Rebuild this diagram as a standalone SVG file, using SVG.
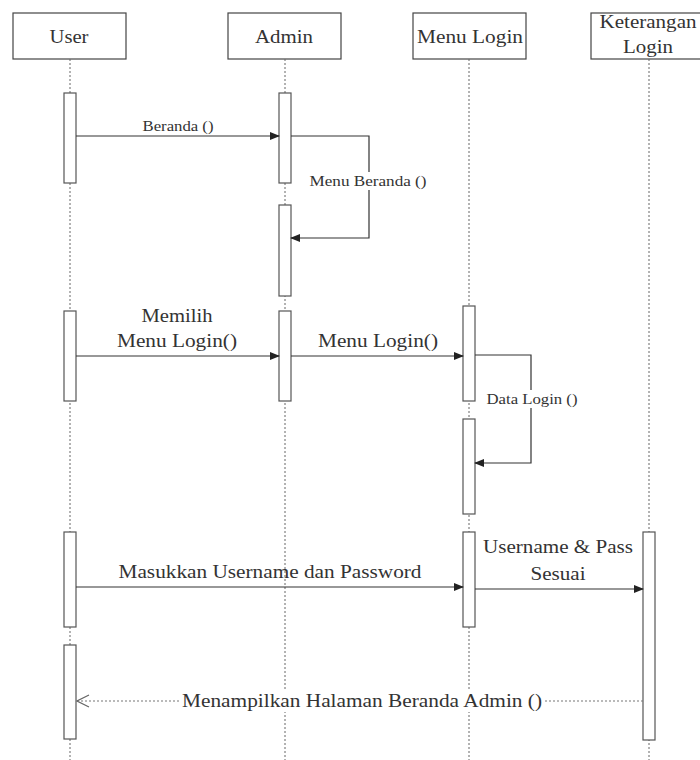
<svg xmlns="http://www.w3.org/2000/svg" width="700" height="760" viewBox="0 0 700 760">
<style>
.box{fill:#fff;stroke:#444;stroke-width:1.2}
.life{stroke:#666;stroke-width:1;stroke-dasharray:2,2;fill:none}
.act{fill:#fff;stroke:#555;stroke-width:1.2}
.msg{stroke:#333;stroke-width:1.2;fill:none}
.ret{stroke:#777;stroke-width:1.2;stroke-dasharray:2,2;fill:none}
text{fill:#333;text-anchor:middle;font-family:"Times New Roman","Liberation Serif",Times,"DejaVu Serif",serif}
.h{font-size:18px}
.m{font-size:19px}
.s{font-size:14px}
</style>
<defs>
<marker id="arr" markerWidth="10" markerHeight="8" refX="9" refY="4" orient="auto" markerUnits="userSpaceOnUse">
<path d="M0,0 L10,4 L0,8 z" fill="#222"/>
</marker>
<marker id="open" markerWidth="14" markerHeight="14" refX="13" refY="7" orient="auto" markerUnits="userSpaceOnUse">
<path d="M1,1 L13,7 L1,13" fill="none" stroke="#666" stroke-width="1.2"/>
</marker>
</defs>

<g id="user">
<rect class="box" x="13" y="13" width="113" height="46"/>
<text class="h" x="69" y="43" textLength="39" lengthAdjust="spacingAndGlyphs">User</text>
<line class="life" x1="70" y1="59" x2="70" y2="760"/>
<rect class="act" x="64" y="93" width="12" height="90"/>
<rect class="act" x="64" y="311" width="12" height="90"/>
<rect class="act" x="64" y="532" width="12" height="95"/>
<rect class="act" x="64" y="645" width="12" height="94"/>
</g>

<g id="admin">
<rect class="box" x="228" y="13" width="113" height="46"/>
<text class="h" x="284" y="43" textLength="58" lengthAdjust="spacingAndGlyphs">Admin</text>
<line class="life" x1="285" y1="59" x2="285" y2="760"/>
<rect class="act" x="279" y="93" width="12" height="90"/>
<rect class="act" x="279" y="205" width="12" height="91"/>
<rect class="act" x="279" y="311" width="12" height="90"/>
</g>

<g id="menu-login">
<rect class="box" x="413" y="13" width="113" height="46"/>
<text class="h" x="470" y="43" textLength="106" lengthAdjust="spacingAndGlyphs">Menu Login</text>
<line class="life" x1="469" y1="59" x2="469" y2="760"/>
<rect class="act" x="463" y="306" width="12" height="95"/>
<rect class="act" x="463" y="419" width="12" height="95"/>
<rect class="act" x="463" y="532" width="12" height="95"/>
</g>

<g id="keterangan-login">
<rect class="box" x="591" y="13" width="116" height="46"/>
<text class="h" x="648" y="28" textLength="97" lengthAdjust="spacingAndGlyphs">Keterangan</text>
<text class="h" x="648" y="53" textLength="50" lengthAdjust="spacingAndGlyphs">Login</text>
<line class="life" x1="649" y1="59" x2="649" y2="760"/>
<rect class="act" x="643" y="532" width="12" height="208"/>
</g>

<g id="connectors">
<line class="msg" x1="76" y1="136" x2="279" y2="136" marker-end="url(#arr)"/>
<text class="s" x="178" y="131" textLength="71" lengthAdjust="spacingAndGlyphs">Beranda ()</text>

<path class="msg" d="M291,136 H369 V238 H291" marker-end="url(#arr)"/>
<rect x="308" y="172" width="122" height="18" fill="#fff"/>
<text class="s" x="368" y="186" textLength="117" lengthAdjust="spacingAndGlyphs">Menu Beranda ()</text>

<line class="msg" x1="76" y1="356" x2="279" y2="356" marker-end="url(#arr)"/>
<text class="m" x="177" y="322" textLength="71" lengthAdjust="spacingAndGlyphs">Memilih</text>
<text class="m" x="177" y="347" textLength="120" lengthAdjust="spacingAndGlyphs">Menu Login()</text>

<line class="msg" x1="291" y1="356" x2="463" y2="356" marker-end="url(#arr)"/>
<text class="m" x="378" y="347" textLength="120" lengthAdjust="spacingAndGlyphs">Menu Login()</text>

<path class="msg" d="M475,355 H531 V463 H475" marker-end="url(#arr)"/>
<rect x="484" y="390" width="96" height="18" fill="#fff"/>
<text class="s" x="532" y="404" textLength="91" lengthAdjust="spacingAndGlyphs">Data Login ()</text>

<line class="msg" x1="76" y1="587" x2="463" y2="587" marker-end="url(#arr)"/>
<text class="m" x="270" y="578" textLength="303" lengthAdjust="spacingAndGlyphs">Masukkan Username dan Password</text>

<line class="msg" x1="475" y1="589" x2="643" y2="589" marker-end="url(#arr)"/>
<text class="m" x="558" y="553" textLength="150" lengthAdjust="spacingAndGlyphs">Username &amp; Pass</text>
<text class="m" x="558" y="580" textLength="55" lengthAdjust="spacingAndGlyphs">Sesuai</text>

<line class="ret" x1="643" y1="701" x2="77" y2="701" marker-end="url(#open)"/>
<rect x="179" y="690" width="366" height="22" fill="#fff"/>
<text class="m" x="362" y="707" textLength="360" lengthAdjust="spacingAndGlyphs">Menampilkan Halaman Beranda Admin ()</text>
</g>
</svg>
